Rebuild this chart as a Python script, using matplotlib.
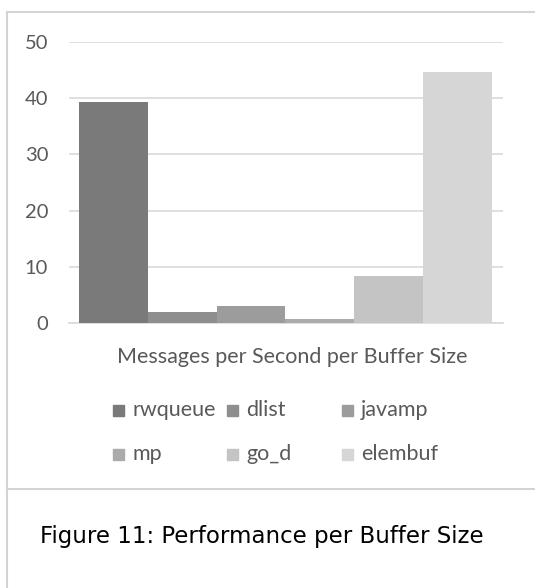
import matplotlib.pyplot as plt
from matplotlib.lines import Line2D
from matplotlib.patches import Rectangle

series = ['rwqueue', 'dlist', 'javamp', 'mp', 'go_d', 'elembuf']
values = [39.3, 2.0, 3.0, 0.7, 8.4, 44.7]
colors = ['#7a7a7a', '#8e8e8e', '#9c9c9c', '#ababab', '#c4c4c4', '#d6d6d6']
y_ticks = [0, 10, 20, 30, 40, 50]
axis_label = 'Messages per Second per Buffer Size'
caption = 'Figure 11: Performance per Buffer Size'

plt.rcParams['font.family'] = ['Lato', 'DejaVu Sans']

W, H = 535, 588
fig = plt.figure(figsize=(W / 100, H / 100), dpi=100)
ax = fig.add_axes([69 / W, 1 - 323 / H, (503 - 69) / W, (323 - 42) / H])

for i, (name, v, c) in enumerate(zip(series, values, colors)):
    ax.bar(i, v, width=1.0, color=c, label=name, zorder=3)

ax.set_xlim(-0.645, 5.66)
ax.set_ylim(0, 50)
ax.set_yticks(y_ticks)
ax.set_xticks([])
ax.grid(axis='y', color='#d9d9d9', linewidth=1.2, zorder=0)
for s in ['top', 'right', 'left']:
    ax.spines[s].set_visible(False)
ax.spines['bottom'].set_color('#d9d9d9')
ax.spines['bottom'].set_linewidth(1.2)
ax.tick_params(axis='y', length=0, pad=15, labelsize=14.5, labelcolor='#595959')

fig.text(292 / W, 1 - 357 / H, axis_label, ha='center', va='center',
         fontsize=15.5, color='#595959')

# legend laid out like Excel: fixed-width columns, filled row by row
col_x = [113, 227, 342]
row_y = [410, 454]
sq = 11
for i, (name, c) in enumerate(zip(series, colors)):
    x0 = col_x[i % 3]
    y0 = row_y[i // 3]
    fig.add_artist(Rectangle((x0 / W, 1 - (y0 + sq / 2) / H), sq / W, sq / H,
                             color=c, transform=fig.transFigure))
    fig.text((x0 + sq + 8) / W, 1 - y0 / H, name, ha='left', va='center',
             fontsize=15.5, color='#595959')

# outer frame and caption separator
fc = '#d4d4d4'
fig.add_artist(Line2D([7 / W, 7 / W], [0, 1 - 12 / H], color=fc, lw=1.5))
fig.add_artist(Line2D([7 / W, 1], [1 - 12 / H, 1 - 12 / H], color=fc, lw=1.5))
fig.add_artist(Line2D([7 / W, 1], [1 - 489 / H, 1 - 489 / H], color=fc, lw=1.5))

fig.text(262 / W, 1 - 537 / H, caption, ha='center', va='center',
         fontsize=16.5, color='black', family=['DejaVu Sans'])

fig.savefig('out.png', dpi=100)
